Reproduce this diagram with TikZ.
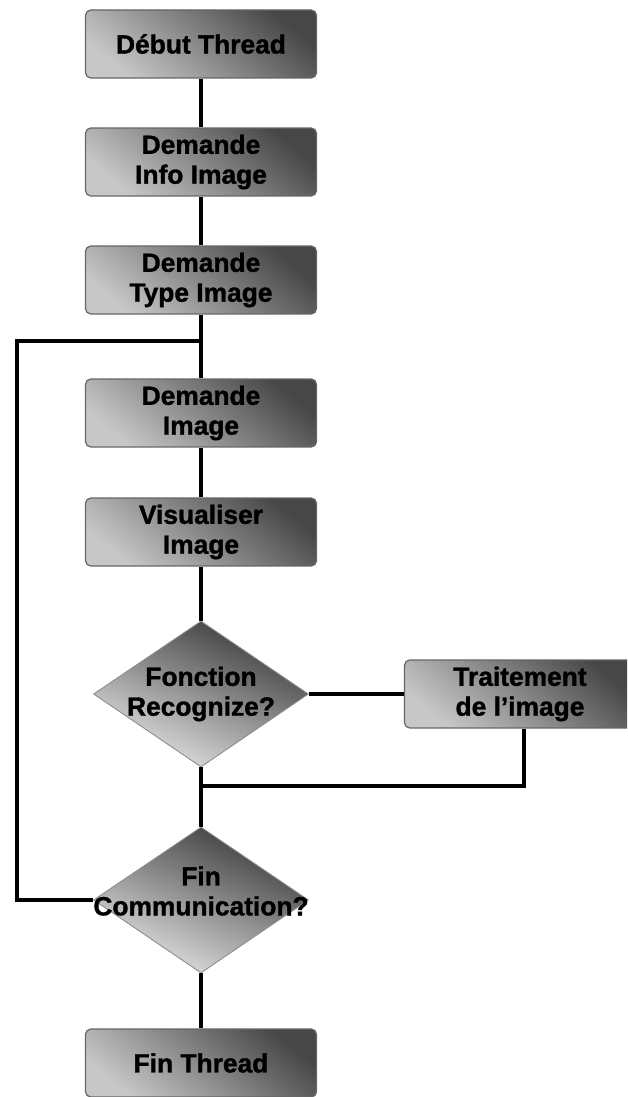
\documentclass[tikz,border=0pt]{standalone}
\usepackage{fontspec}
\setmainfont{Liberation Sans}
\newfontfamily\heavyfont{Liberation Sans Bold}[FakeBold=1.3]
\usetikzlibrary{shapes.geometric}
\newcommand{\boxfont}{\fontsize{15}{17}\selectfont\heavyfont}

\tikzset{
  procbox/.style={rectangle, rounded corners=3pt, minimum width=4.62cm,
    minimum height=1.36cm, inner sep=0pt, align=center, font=\boxfont,
    top color=black!72, bottom color=black!22, shading angle=-40,
    draw=black!60, line width=0.7pt},
  decision/.style={diamond, minimum width=4.3cm, minimum height=2.92cm,
    inner sep=0pt, top color=black!78, bottom color=black!10,
    shading angle=-25, draw=black!45, line width=0.5pt},
  dlabel/.style={align=center, font=\boxfont, inner sep=0pt},
  link/.style={line width=2.2pt, black}
}

\begin{document}
\begin{tikzpicture}[x=0.02cm, y=-0.02cm]
  \useasboundingbox (0,0) rectangle (627,1097);
  \clip (0,0) rectangle (627,1097);
  \fill[white] (0,0) rectangle (627,1097);

  % junction points of the connectors
  \coordinate (lx) at (17,0);
  \coordinate (jloop) at (201,341);
  \coordinate (jmerge) at (201,786);
  \coordinate (jside) at (524,786);

  % process steps
  \path
    (201,44)   node[procbox] (b1) {Début Thread}
    (201,162)  node[procbox] (b2) {Demande\\Info Image}
    (201,280)  node[procbox] (b3) {Demande\\Type Image}
    (201,413)  node[procbox] (b4) {Demande\\Image}
    (201,532)  node[procbox] (b5) {Visualiser\\Image}
    (520,694)  node[procbox] (b7) {Traitement\\de l’image}
    (201,1063) node[procbox] (b6) {Fin Thread};

  % decisions (shapes only; labels drawn on top)
  \node[decision] (d1) at (201,694) {};
  \node[decision] (d2) at (201,900) {};

  % connectors
  \draw[link] (b1) -- (b2);
  \draw[link] (b2) -- (b3);
  \draw[link] (b3) -- (b4);
  \draw[link] (b4) -- (b5);
  \draw[link] (b5) -- (d1);
  \draw[link] (d1.east) -- (b7.west);
  \draw[link] (b7.south -| jside) -- (jside) -- (jmerge);
  \draw[link] (d1.south) -- (d2.north);
  \draw[link] (d2.west) -- (d2.west -| lx) |- (jloop);
  \draw[link] (d2.south) -- (b6.north);

  % decision texts
  \node[dlabel] (d1t) at (d1.center) {Fonction\\Recognize?};
  \node[dlabel] (d2t) at (201,891) {Fin\\Communication?};
\end{tikzpicture}
\end{document}
